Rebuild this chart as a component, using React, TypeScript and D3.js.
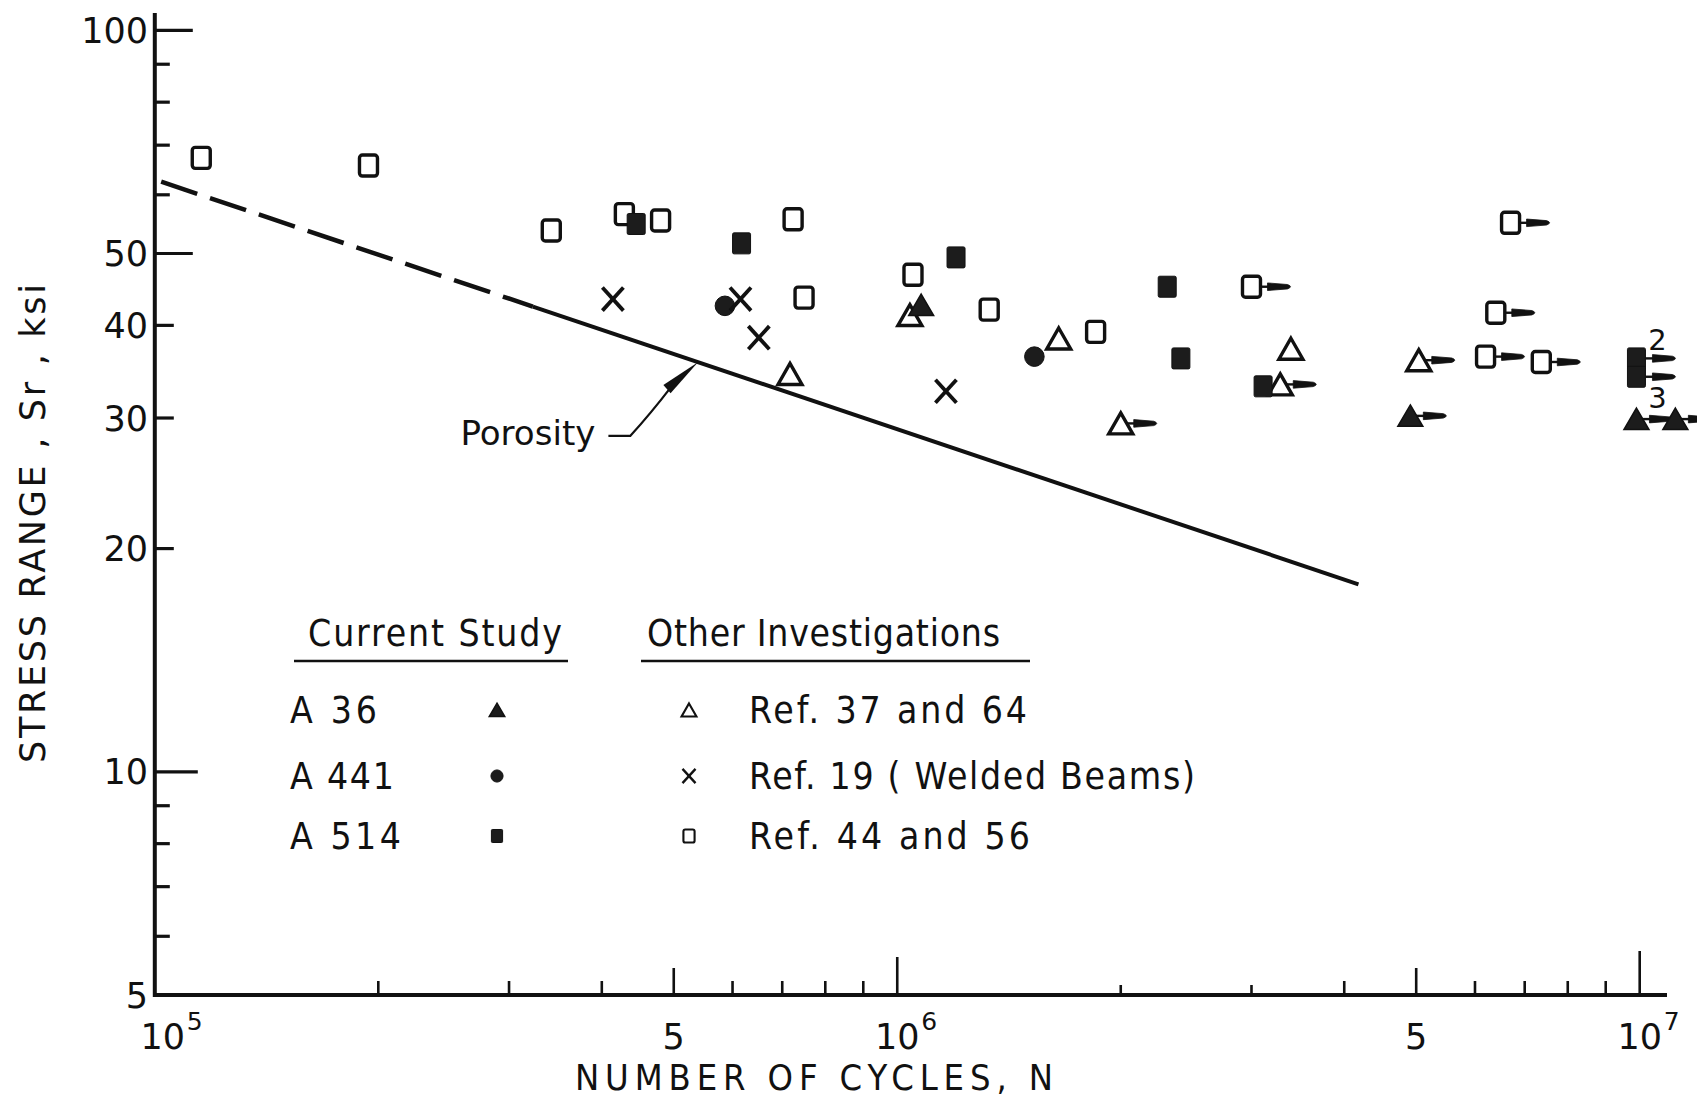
import React from 'react'
import * as d3 from 'd3'

const W = 1697
const H = 1101

// values: [N cycles, Sr ksi]
const a36 = [[1.077e6, 42.6]]
const a36Runouts = [[4.91e6, 30.2], [9.9e6, 29.9], [1.117e7, 29.9]]
const a441 = [[5.86e5, 42.5], [1.53e6, 36.3]]
const a514 = [[4.45e5, 54.8], [6.17e5, 51.6], [1.2e6, 49.4], [2.31e6, 45.1], [2.41e6, 36.1], [3.11e6, 33.1]]
const a514Runouts = [[9.9e6, 36.1], [9.9e6, 34.1]]
const a514RunoutCounts = ['2', '3']
const ref3764 = [[7.17e5, 34.4], [1.04e6, 41.3], [1.65e6, 38.4], [3.39e6, 37.2]]
const ref3764Runouts = [[2.0e6, 29.5], [3.28e6, 33.3], [5.04e6, 35.9]]
const ref19 = [[4.14e5, 43.4], [6.15e5, 43.4], [6.51e5, 38.5], [1.163e6, 32.6]]
const ref4456 = [[1.155e5, 67.3], [1.94e5, 65.7], [3.42e5, 53.7], [4.29e5, 56.5], [4.8e5, 55.4],
  [7.24e5, 55.6], [7.49e5, 43.6], [1.05e6, 46.8], [1.33e6, 42.0], [1.85e6, 39.2]]
const ref4456Runouts = [[3.0e6, 45.1], [6.7e6, 55.0], [6.4e6, 41.6], [6.2e6, 36.3], [7.37e6, 35.7]]

// porosity design line
const porosityDashed = [[1.02e5, 62.5], [3.23e5, 42.4]]
const porositySolid = [[3.23e5, 42.4], [4.18e6, 17.9]]
const porosityTipN = 5.39e5
const porosityLabelAt = [2.58e5, 27.6]

const yTickValues = [6, 7, 8, 9, 10, 20, 30, 40, 50, 60, 70, 80, 90, 100]
const yTickLabels = [5, 10, 20, 30, 40, 50, 100]
const xTickValues = [2e5, 3e5, 4e5, 5e5, 6e5, 7e5, 8e5, 9e5, 1e6, 2e6, 3e6, 4e6, 5e6, 6e6, 7e6, 8e6, 9e6, 1e7]
const xTickLabels = [1e5, 5e5, 1e6, 5e6, 1e7]
const xTickBase = ['10', '5', '10', '5', '10']
const xTickExp = ['5', '', '6', '', '7']

const legendCurrent = [
  { label: 'A 36', marker: 'filledTri' },
  { label: 'A 441', marker: 'filledCircle' },
  { label: 'A 514', marker: 'filledSquare' },
]
const legendOther = [
  { label: 'Ref.  37 and 64', marker: 'openTri' },
  { label: 'Ref.  19 ( Welded  Beams)', marker: 'cross' },
  { label: 'Ref.  44 and 56', marker: 'openSquare' },
]

const INK = '#111'
const SANS = "'DejaVu Sans', 'Liberation Sans', sans-serif"
const NARROW = "'DejaVu Sans Condensed', 'Liberation Sans Narrow', 'DejaVu Sans', sans-serif"

const x = d3.scaleLog().domain([1e5, 1e7]).range([154.8, 1639.7])
const y = d3.scaleLog().domain([5, 100]).range([995, 30.3])

function Marker({ type, cx, cy, k = 1 }) {
  if (type === 'openSquare')
    return <rect x={cx - 9 * k} y={cy - 10.5 * k} width={18 * k} height={21 * k} rx={3 * k}
      fill="#fff" stroke={INK} strokeWidth={3.4 * k} />
  if (type === 'filledSquare')
    return <rect x={cx - 9 * k} y={cy - 10.5 * k} width={18 * k} height={21 * k} rx={1.5 * k}
      fill="#1c1c1c" stroke={INK} strokeWidth={1} />
  if (type === 'openTri')
    return <path d={`M${cx},${cy - 10.5 * k}L${cx + 12 * k},${cy + 10.5 * k}L${cx - 12 * k},${cy + 10.5 * k}Z`}
      fill="#fff" stroke={INK} strokeWidth={3.4 * k} strokeLinejoin="miter" />
  if (type === 'filledTri')
    return <path d={`M${cx},${cy - 11 * k}L${cx + 12.5 * k},${cy + 10.5 * k}L${cx - 12.5 * k},${cy + 10.5 * k}Z`}
      fill="#1c1c1c" stroke={INK} strokeWidth={1.5} />
  if (type === 'filledCircle')
    return <circle cx={cx} cy={cy} r={9.8 * k} fill="#1c1c1c" stroke={INK} strokeWidth={1} />
  // cross
  const h = 10.5 * k
  return (
    <g stroke={INK} strokeWidth={3.8 * k} strokeLinecap="butt">
      <line x1={cx - h} y1={cy - h * 1.1} x2={cx + h} y2={cy + h * 1.1} />
      <line x1={cx - h} y1={cy + h * 1.1} x2={cx + h} y2={cy - h * 1.1} />
    </g>
  )
}

function Runout({ x0, cy }) {
  return (
    <g fill={INK} stroke={INK}>
      <line x1={x0} y1={cy} x2={x0 + 9} y2={cy} strokeWidth={2.4} />
      <path d={`M${x0 + 7},${cy - 3.8}L${x0 + 27},${cy - 2.2}Q${x0 + 33},${cy} ${x0 + 27},${cy + 2.2}L${x0 + 7},${cy + 3.8}Z`}
        strokeWidth={0.8} />
    </g>
  )
}

function Series({ points, runouts = [], type }) {
  const edge = type.endsWith('Tri') ? 6 : 9
  return (
    <g>
      {points.map((d, i) => <Marker key={'p' + i} type={type} cx={x(d[0])} cy={y(d[1])} />)}
      {runouts.map((d, i) => (
        <g key={'r' + i}>
          <Marker type={type} cx={x(d[0])} cy={y(d[1])} />
          <Runout x0={x(d[0]) + edge} cy={y(d[1])} />
        </g>
      ))}
    </g>
  )
}

function yTickLen(v) {
  if (v === 10) return 43
  if (v === 100 || v === 50) return 38
  if (v === 20 || v === 30 || v === 40) return 19
  return 15
}

function xTickLen(v) {
  if (v === 1e7) return 44
  if (v === 1e6) return 38
  if (v === 5e5 || v === 5e6) return 27
  if (v === 2e6 || v === 3e6) return 10
  return 14
}

export default function App() {
  const line = d3.line().x(d => x(d[0])).y(d => y(d[1]))
  // point of the porosity line where the leader arrow lands (log-log interpolation)
  const [p0, p1] = porositySolid
  const tt = (Math.log(porosityTipN) - Math.log(p0[0])) / (Math.log(p1[0]) - Math.log(p0[0]))
  const tipS = Math.exp(Math.log(p0[1]) + tt * (Math.log(p1[1]) - Math.log(p0[1])))
  const tip = [x(porosityTipN), y(tipS)]
  const lab = [x(porosityLabelAt[0]), y(porosityLabelAt[1])]
  const bend = [lab[0] + 170, lab[1] - 9]
  const headBase = [tip[0] - 31, tip[1] + 27]
  const ang = Math.atan2(tip[1] - headBase[1], tip[0] - headBase[0])
  const nx = -Math.sin(ang) * 5.5
  const ny = Math.cos(ang) * 5.5

  const rowY = [710, 776, 836]

  return (
    <svg width={W} height={H} style={{ position: 'absolute', left: 0, top: 0, background: '#fff' }}>
      <rect width={W} height={H} fill="#fff" />

      {/* axes */}
      <line x1={x(1e5)} y1={13} x2={x(1e5)} y2={997} stroke={INK} strokeWidth={4} />
      <line x1={153} y1={y(5)} x2={1667} y2={y(5)} stroke={INK} strokeWidth={4} />

      {yTickValues.map(v => (
        <line key={v} x1={x(1e5)} x2={x(1e5) + yTickLen(v)} y1={y(v)} y2={y(v)} stroke={INK} strokeWidth={3.2} />
      ))}
      {yTickLabels.map(v => (
        <text key={v} x={148} y={y(v)} dy="0.36em" textAnchor="end" fontFamily={SANS} fontSize={35} fill={INK}>{v}</text>
      ))}

      {xTickValues.map(v => (
        <line key={v} x1={x(v)} x2={x(v)} y1={y(5)} y2={y(5) - xTickLen(v)} stroke={INK} strokeWidth={2.6} />
      ))}
      {xTickLabels.map((v, i) => {
        const cx = x(v) + (i === 0 ? 8 : 0)
        return (
          <g key={v} fontFamily={SANS} fill={INK}>
            <text x={cx} y={1049} textAnchor="middle" fontSize={35}>{xTickBase[i]}</text>
            {xTickExp[i] && <text x={cx + 24} y={1030} fontSize={25}>{xTickExp[i]}</text>}
          </g>
        )
      })}

      <text x={575} y={1090} textLength={478} lengthAdjust="spacing" fontFamily={NARROW} fontSize={36} fill={INK}>
        NUMBER OF CYCLES, N
      </text>
      <text transform="translate(45,523.5) rotate(-90)" textAnchor="middle" textLength={479} lengthAdjust="spacing"
        fontFamily={SANS} fontSize={35} fill={INK}>
        STRESS RANGE , Sr , ksi
      </text>

      {/* porosity line */}
      <path d={line(porosityDashed)} fill="none" stroke={INK} strokeWidth={4.5} strokeDasharray="38 13.5" />
      <path d={line(porositySolid)} fill="none" stroke={INK} strokeWidth={4} />

      <text x={lab[0]} y={lab[1]} textLength={135} lengthAdjust="spacingAndGlyphs" fontFamily={SANS} fontSize={33} fill={INK}>
        Porosity
      </text>
      <path d={`M${lab[0] + 148},${bend[1]}L${bend[0]},${bend[1]}Q${bend[0] + 20},${bend[1] - 22} ${headBase[0] + 4},${headBase[1] - 2}`}
        fill="none" stroke={INK} strokeWidth={2.2} />
      <path d={`M${tip[0]},${tip[1]}L${headBase[0] + nx},${headBase[1] + ny}L${headBase[0] - nx},${headBase[1] - ny}Z`} fill={INK} />

      {/* data */}
      <Series points={ref4456} runouts={ref4456Runouts} type="openSquare" />
      <Series points={ref3764} runouts={ref3764Runouts} type="openTri" />
      <Series points={a514} runouts={a514Runouts} type="filledSquare" />
      <Series points={a441} type="filledCircle" />
      <Series points={a36} runouts={a36Runouts} type="filledTri" />
      <Series points={ref19} type="cross" />

      {a514Runouts.map((d, i) => (
        <text key={i} x={x(d[0]) + 21} y={y(d[1]) + (i === 0 ? -19 : 21)} dy="0.36em" textAnchor="middle"
          fontFamily={SANS} fontSize={29} fill={INK}>{a514RunoutCounts[i]}</text>
      ))}

      {/* legend */}
      <g fontFamily={NARROW} fill={INK} fontSize={37}>
        <text x={308} y={646} textLength={254} lengthAdjust="spacing">Current  Study</text>
        <text x={647} y={646} textLength={353} lengthAdjust="spacing">Other  Investigations</text>
      </g>
      <line x1={294} x2={568} y1={661} y2={661} stroke={INK} strokeWidth={2.6} />
      <line x1={641} x2={1030} y1={661} y2={661} stroke={INK} strokeWidth={2.6} />
      {legendCurrent.map((d, i) => (
        <g key={d.label}>
          <text x={290} y={rowY[i] + 13} fontFamily={NARROW} fontSize={37} fill={INK}
            textLength={[87, 104, 111][i]} lengthAdjust="spacing">{d.label}</text>
          <Marker type={d.marker} cx={497} cy={rowY[i]} k={0.62} />
        </g>
      ))}
      {legendOther.map((d, i) => (
        <g key={d.label}>
          <Marker type={d.marker} cx={689} cy={rowY[i]} k={0.62} />
          <text x={749} y={rowY[i] + 13} fontFamily={NARROW} fontSize={37} fill={INK}
            textLength={[278, 446, 281][i]} lengthAdjust="spacing">{d.label}</text>
        </g>
      ))}
    </svg>
  )
}
